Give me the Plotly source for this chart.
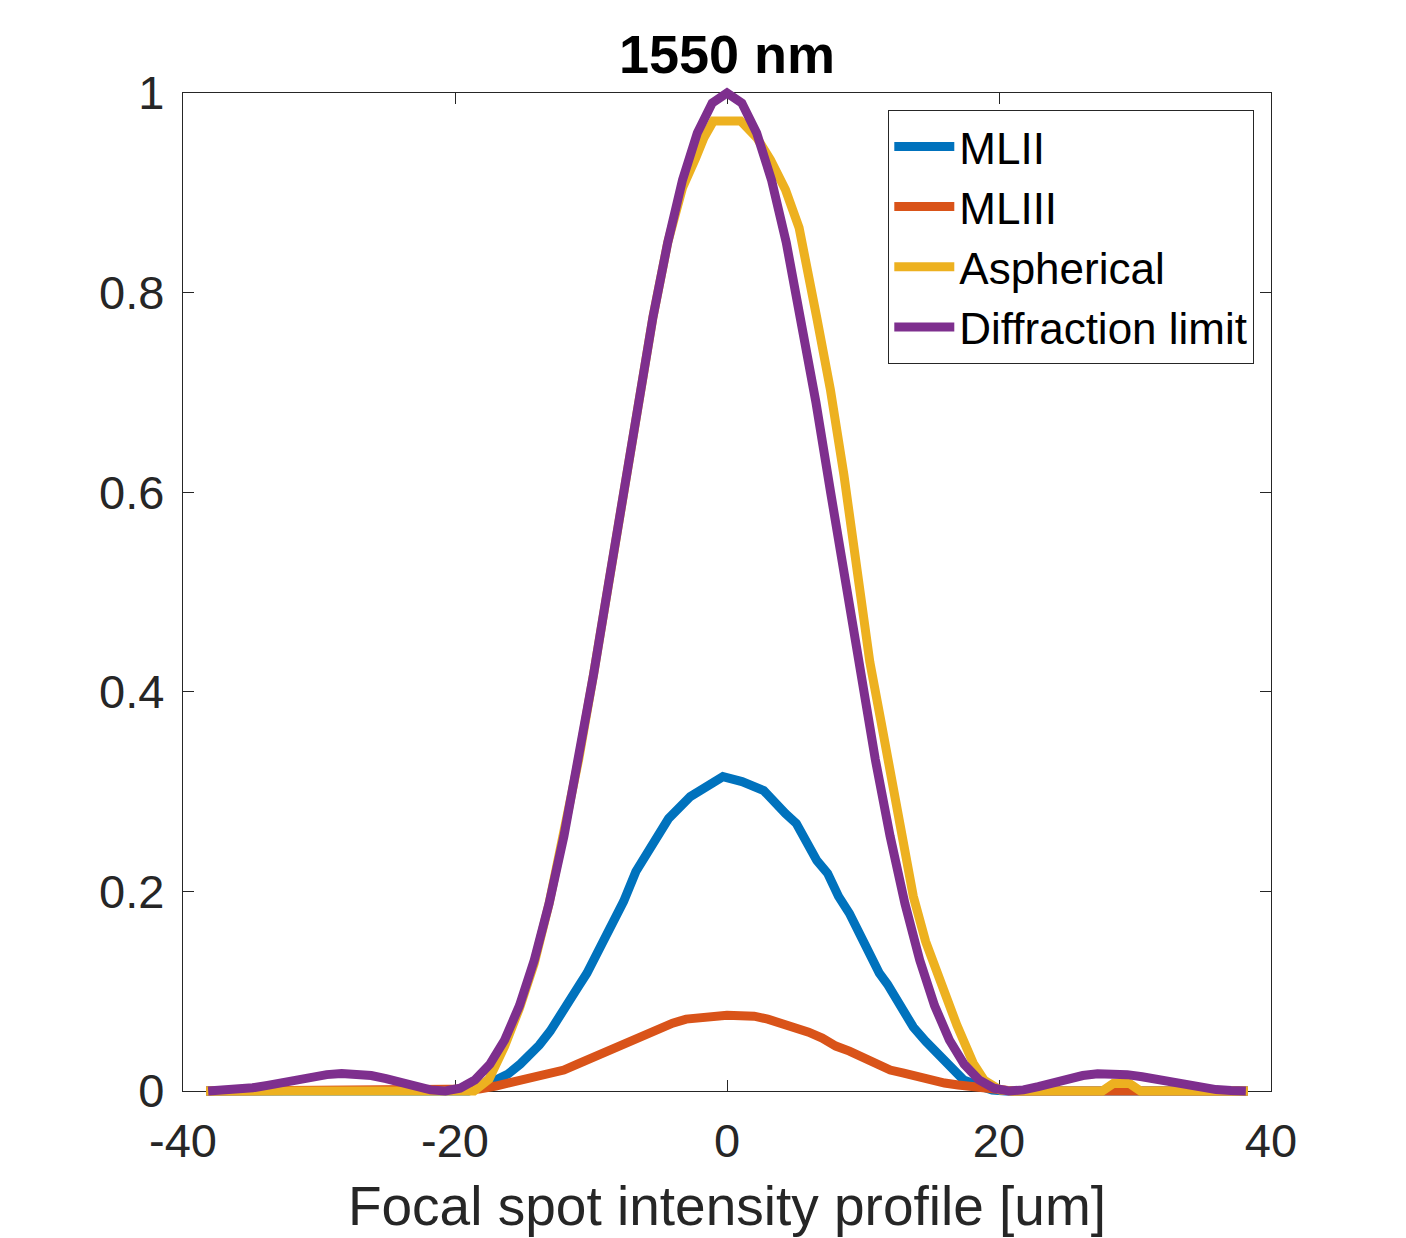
import plotly.graph_objects as go

# ---------------- data ----------------
series_names = ["MLII", "MLIII", "Aspherical", "Diffraction limit"]
series_colors = ["#0072BD", "#D95319", "#EDB120", "#7E2F8E"]

x_mlii = [-38.3, -19.0, -18.2, -17.0, -16.1, -15.2, -14.6, -13.8, -13.0, -12.1, -11.0,
          -10.3, -9.3, -8.5, -7.6, -6.7, -5.9, -4.9, -4.3, -2.7, -0.3, 1.1, 2.7, 4.3,
          5.1, 6.6, 7.4, 8.2, 9.0, 10.1, 11.2, 11.8, 12.8, 13.7, 14.6, 15.7, 16.6,
          17.4, 18.6, 19.5, 20.5, 38.3]
y_mlii = [0.0, 0.0, 0.003, 0.010, 0.017, 0.027, 0.034, 0.046, 0.060, 0.081, 0.103,
          0.118, 0.145, 0.166, 0.190, 0.220, 0.238, 0.258, 0.273, 0.295, 0.315, 0.310,
          0.301, 0.278, 0.268, 0.231, 0.218, 0.195, 0.178, 0.148, 0.118, 0.107, 0.085,
          0.064, 0.050, 0.034, 0.022, 0.011, 0.005, 0.001, 0.0, 0.0]

x_mliii = [-38.3, -19.0, -18.2, -17.0, -16.0, -15.0, -14.0, -13.0, -12.0, -11.0, -10.0,
           -9.0, -8.0, -7.0, -6.0, -5.0, -4.0, -3.0, -2.0, -1.0, 0.0, 1.0, 2.0, 3.0,
           4.0, 5.0, 6.0, 7.0, 8.0, 9.0, 10.0, 11.0, 12.0, 13.0, 14.0, 15.0, 16.0,
           17.0, 18.0, 19.0, 20.0, 21.0, 38.3]
y_mliii = [0.0, 0.0, 0.002, 0.005, 0.008, 0.010, 0.013, 0.017, 0.021, 0.027, 0.033,
           0.040, 0.046, 0.052, 0.058, 0.063, 0.068, 0.072, 0.074, 0.076, 0.076, 0.0755,
           0.075, 0.072, 0.068, 0.065, 0.059, 0.053, 0.045, 0.040, 0.033, 0.027, 0.021,
           0.018, 0.014, 0.010, 0.008, 0.006, 0.004, 0.002, 0.001, 0.0, 0.0]

x_asph = [-38.3, -18.6, -17.5, -16.35, -15.26, -14.17, -13.08, -11.99, -10.9, -9.81,
          -8.72, -7.63, -6.54, -5.45, -4.36, -3.27, -2.3, -1.7, -1.0, 1.0, 2.2, 3.2,
          4.3, 5.3, 6.6, 7.6, 8.6, 9.6, 10.5, 11.3, 12.5, 13.7, 14.6, 15.4, 16.2, 16.9,
          18.1, 18.9, 20.1, 21.0, 27.6, 28.4, 29.6, 30.4, 38.3]
y_asph = [0.0, 0.0, 0.012, 0.045, 0.083, 0.128, 0.1879, 0.2555, 0.3326, 0.4175,
          0.5075, 0.599, 0.690, 0.775, 0.850, 0.905, 0.935, 0.955, 0.972, 0.972, 0.955,
          0.933, 0.903, 0.865, 0.775, 0.703, 0.617, 0.515, 0.430, 0.372, 0.278, 0.195,
          0.150, 0.121, 0.090, 0.066, 0.028, 0.011, 0.001, 0.0, 0.0, 0.0075, 0.0075,
          0.0, 0.0]

x_diff = [-38.15, -37.06, -35.97, -34.88, -33.79, -32.70, -31.61, -30.52, -29.43, -28.34,
          -27.25, -26.16, -25.07, -23.98, -22.89, -21.80, -20.71, -19.62, -18.53, -17.44,
          -16.35, -15.26, -14.17, -13.08, -11.99, -10.90, -9.81, -8.72, -7.63, -6.54,
          -5.45, -4.36, -3.27, -2.18, -1.09, 0.0, 1.09, 2.18, 3.27, 4.36, 5.45, 6.54,
          7.63, 8.72, 9.81, 10.90, 11.99, 13.08, 14.17, 15.26, 16.35, 17.44, 18.53,
          19.62, 20.71, 21.80, 22.89, 23.98, 25.07, 26.16, 27.25, 28.34, 29.43, 30.52,
          31.61, 32.70, 33.79, 34.88, 35.97, 37.06, 38.15]
y_diff = [0.0000, 0.0004, 0.0014, 0.0032, 0.0056, 0.0085, 0.0115, 0.0143, 0.0164, 0.0174,
          0.0172, 0.0155, 0.0125, 0.0085, 0.0044, 0.0011, 0.0001, 0.0028, 0.0111, 0.0267,
          0.0511, 0.0856, 0.1312, 0.1879, 0.2555, 0.3326, 0.4175, 0.5075, 0.599, 0.690,
          0.775, 0.850, 0.913, 0.960, 0.990, 1.000, 0.990, 0.960, 0.913, 0.850, 0.775,
          0.690, 0.599, 0.5075, 0.4175, 0.3326, 0.2555, 0.1879, 0.1312, 0.0856, 0.0511,
          0.0267, 0.0111, 0.0028, 0.0001, 0.0011, 0.0044, 0.0085, 0.0125, 0.0155, 0.0172,
          0.0174, 0.0164, 0.0143, 0.0115, 0.0085, 0.0056, 0.0032, 0.0014, 0.0004, 0.0000]

x_tick_vals = [-40, -20, 0, 20, 40]
x_tick_text = ["-40", "-20", "0", "20", "40"]
y_tick_vals = [0, 0.2, 0.4, 0.6, 0.8, 1]
y_tick_text = ["0", "0.2", "0.4", "0.6", "0.8", "1"]
x_range = [-40, 40]
y_range = [0, 1]

title_text = "1550 nm"
x_label = "Focal spot intensity profile [um]"

# ---------------- layout geometry ----------------
# the page body adds an 8 px offset, so the figure is 8 px smaller
OFF = 8
W, H = 1406 - OFF, 1238 - OFF
pad = 14  # px of room around the frame so thick lines are not clipped
frame_l, frame_r, frame_t, frame_b = 183 - OFF, 1271 - OFF, 93 - OFF, 1091 - OFF
ml, mr = frame_l - pad, W - (frame_r + pad)
mt, mb = frame_t - pad, H - (frame_b + pad)
pw, ph = W - ml - mr, H - mt - mb
fx0, fx1 = pad / pw, 1 - pad / pw
fy0, fy1 = pad / ph, 1 - pad / ph
frame_w, frame_h = pw - 2 * pad, ph - 2 * pad
dx = pad * (x_range[1] - x_range[0]) / frame_w
dy = pad * (y_range[1] - y_range[0]) / frame_h

FONT = "Liberation Sans, Arial, Helvetica, sans-serif"
AX = "#262626"

fig = go.Figure()
# empty trace so that the frame subplot (ticks, box, labels) is drawn
fig.add_trace(go.Scatter(x=[None], y=[None], mode="lines", showlegend=False,
                         hoverinfo="skip", xaxis="x", yaxis="y"))
xs = [x_mlii, x_mliii, x_asph, x_diff]
ys = [y_mlii, y_mliii, y_asph, y_diff]
for name, col, xv, yv in zip(series_names, series_colors, xs, ys):
    fig.add_trace(go.Scatter(x=xv, y=yv, mode="lines", name=name,
                             line=dict(color=col, width=9),
                             xaxis="x2", yaxis="y2"))

axis_common = dict(showline=True, linecolor=AX, linewidth=1.3, mirror="ticks",
                   ticks="inside", ticklen=11, tickwidth=1.3, tickcolor=AX,
                   showgrid=False, zeroline=False,
                   tickfont=dict(family=FONT, size=47, color=AX))

fig.update_layout(
    width=W, height=H,
    margin=dict(l=ml, r=mr, t=mt, b=mb, autoexpand=False),
    paper_bgcolor="white", plot_bgcolor="rgba(0,0,0,0)",
    xaxis=dict(domain=[fx0, fx1], range=x_range, anchor="y",
               tickmode="array", tickvals=x_tick_vals, ticktext=x_tick_text,
               ticklabelstandoff=8,
               title=dict(text=x_label, font=dict(family=FONT, size=55, color=AX),
                          standoff=20),
               **axis_common),
    yaxis=dict(domain=[fy0, fy1], range=y_range, anchor="x",
               tickmode="array", tickvals=y_tick_vals, ticktext=y_tick_text,
               ticklabelstandoff=8,
               **axis_common),
    xaxis2=dict(domain=[0, 1], range=[x_range[0] - dx, x_range[1] + dx],
                anchor="y2", visible=False),
    yaxis2=dict(domain=[0, 1], range=[y_range[0] - dy, y_range[1] + dy],
                anchor="x2", visible=False),
    title=dict(text="<b>" + title_text + "</b>", x=0.5, xref="paper", xanchor="center",
               y=1 - (54 - OFF) / H, yref="container", yanchor="middle",
               font=dict(family=FONT, size=54, color="black")),
    legend=dict(x=(1254 - OFF - ml) / pw, y=(H - mb - (110 - OFF)) / ph,
                xref="paper", yref="paper",
                xanchor="right", yanchor="top",
                bgcolor="white", bordercolor=AX, borderwidth=1.3,
                font=dict(family=FONT, size=44, color="black"),
                itemwidth=60, tracegroupgap=0),
    showlegend=True,
)

fig.write_html("out.html")
